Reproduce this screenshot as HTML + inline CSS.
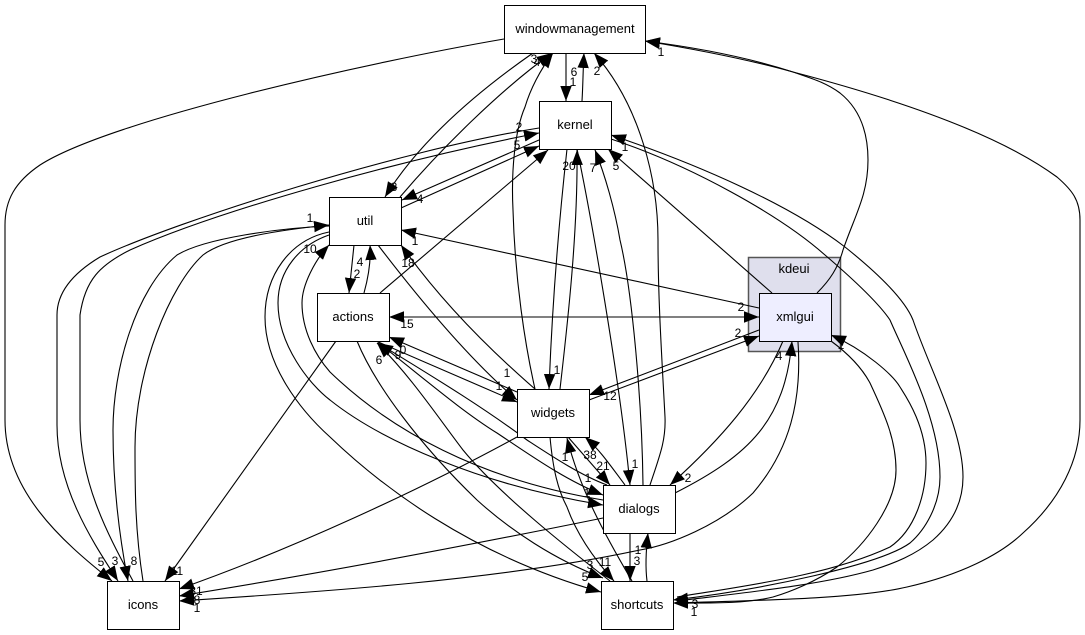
<!DOCTYPE html>
<html><head><meta charset="utf-8"><style>
html,body{margin:0;padding:0;background:#fff}
svg{display:block}
.e path{fill:none;stroke:#000;stroke-width:1.1}
.a{marker-end:url(#m)}
.n rect{fill:#fff;stroke:#000;stroke-width:1}
text{font-family:"Liberation Sans",sans-serif;fill:#000}
.n text{font-size:13px;text-anchor:middle}
.l text{font-size:12px;text-anchor:middle}
</style></head><body>
<svg width="1085" height="635" viewBox="0 0 1085 635" xmlns="http://www.w3.org/2000/svg">
<defs><marker id="m" markerUnits="userSpaceOnUse" markerWidth="17" markerHeight="14" refX="15" refY="6.5" orient="auto"><path d="M0,0.8L15,6.5L0,12.2Z" fill="#000"/></marker></defs>
<rect x="748.5" y="257.5" width="92" height="94" fill="#dfdfed" stroke="#555" stroke-width="1.5"/>
<text x="794" y="273" font-size="13" text-anchor="middle">kdeui</text>
<g class="e">
<path class="a" d="M504,39C370,62 110,120 40,165C15,182 5,200 5,225L5,420C5,490 60,540 112,581"/>
<path class="a" d="M533,53C480,90 420,140 385,197"/>
<path class="a" d="M400,197C440,150 500,90 552,53"/>
<path class="a" d="M535,389C525,345 515,280 513,210C511,170 515,130 525,107C530,90 540,70 553,53"/>
<path class="a" d="M566,53L566,101"/>
<path class="a" d="M582,101C583,85 583,70 584,53"/>
<path class="a" d="M650,485C660,455 666,440 665,417C662,360 658,300 658,240C658,180 640,105 594,53"/>
<path class="a" d="M817,293C830,280 838,268 843,250C855,215 868,195 868,160C868,125 855,105 840,93C825,82 810,78 793,72C750,58 700,48 645,41"/>
<path class="a" d="M673,603C780,600 860,598 907,587C960,575 1000,555 1023,533C1060,500 1080,460 1080,420L1080,220C1080,200 1072,190 1057,177C1000,135 900,100 793,72C750,60 700,50 645,41"/>
<path class="a" d="M539,128C400,150 180,220 100,257C70,275 57,295 57,315L57,425C57,490 95,545 118,581"/>
<path class="a" d="M133,581C105,530 80,480 80,420L80,315C85,280 100,265 130,250C220,210 400,160 539,133"/>
<path class="a" d="M539,140L402,200"/>
<path class="a" d="M401,208L539,146"/>
<path class="a" d="M380,293L548,150"/>
<path class="a" d="M329,226C280,228 205,238 177,255C135,290 113,370 113,430C113,490 120,540 128,581"/>
<path class="a" d="M143,581C135,530 135,490 135,447C135,370 170,285 203,255C225,238 280,230 329,225"/>
<path class="a" d="M560,389C568,320 578,230 577,150"/>
<path class="a" d="M567,149C558,230 552,310 549,389"/>
<path class="a" d="M577,149C590,210 620,380 630,485"/>
<path class="a" d="M643,485C642,400 632,290 620,240C615,210 605,175 595,150"/>
<path class="a" d="M772,293L608,149"/>
<path class="a" d="M677,597C750,585 830,575 890,547C915,530 926,495 926,463C926,425 905,395 900,387C893,375 865,350 831,335"/>
<path class="a" d="M831,341C850,355 862,368 870,383C885,415 896,440 896,470C896,505 865,545 837,567C815,582 790,592 773,597C745,604 710,603 673,603"/>
<path class="a" d="M677,601C750,592 820,585 873,570C895,563 915,555 933,540C950,525 963,505 963,477C963,430 930,370 913,320C905,300 880,275 845,247C790,205 700,165 611,135"/>
<path class="a" d="M611,139C690,165 780,215 825,255C860,285 880,305 890,320C905,355 940,420 940,477C940,505 925,530 910,543C880,565 760,590 673,600"/>
<path class="a" d="M759,308L401,230"/>
<path class="a" d="M402,317L759,317"/>
<path class="a" d="M759,317L389,317"/>
<path class="a" d="M759,330L589,395"/>
<path class="a" d="M589,400L759,336"/>
<path class="a" d="M783,341C760,395 720,440 670,485"/>
<path class="a" d="M675,493C750,455 785,420 792,341"/>
<path class="a" d="M798,342C802,400 790,450 753,493C720,525 670,545 640,550C500,580 320,592 179,601"/>
<path class="a" d="M354,245L349,293"/>
<path class="a" d="M364,293C369,275 371,260 370,245"/>
<path class="a" d="M378,245C420,300 470,360 517,400"/>
<path class="a" d="M535,389C490,350 440,300 401,245"/>
<path class="a" d="M517,392L389,337"/>
<path class="a" d="M376,341L517,402"/>
<path class="a" d="M329,232C290,240 265,275 265,317C265,365 300,410 330,437C380,485 470,555 601,592"/>
<path class="a" d="M329,235C300,245 278,270 278,303C278,345 310,385 330,400C380,440 480,485 603,505"/>
<path class="a" d="M603,500C480,480 390,430 330,372C315,355 302,330 302,303C302,285 315,260 329,245"/>
<path class="a" d="M380,344C420,375 460,410 497,433C530,455 565,480 603,495"/>
<path class="a" d="M607,485C580,475 550,455 527,440C480,405 430,375 378,343"/>
<path class="a" d="M357,341C375,385 420,445 477,500C510,530 555,560 603,578"/>
<path class="a" d="M610,581C570,550 500,495 463,450C440,420 410,375 377,343"/>
<path class="a" d="M336,341L165,581"/>
<path class="a" d="M517,437C420,490 290,550 179,589"/>
<path class="a" d="M603,518C470,545 310,575 179,596"/>
<path class="a" d="M550,437C553,470 558,490 567,507C577,535 595,560 614,581"/>
<path class="a" d="M632,581C605,535 580,490 567,438"/>
<path class="a" d="M568,437L610,485"/>
<path class="a" d="M625,485C610,465 600,450 585,437"/>
<path class="a" d="M630,533C630,550 630,565 630,581"/>
<path class="a" d="M647,581C645,565 646,550 648,533"/>
</g>
<g class="n">
<rect x="504.5" y="5.5" width="141" height="48"/><text x="575" y="33">windowmanagement</text>
<rect x="539.5" y="101.5" width="72" height="48"/><text x="575" y="129">kernel</text>
<rect x="329.5" y="197.5" width="72" height="48"/><text x="365" y="225">util</text>
<rect x="317.5" y="293.5" width="72" height="48"/><text x="353" y="321">actions</text>
<rect x="759.5" y="293.5" width="72" height="48" style="fill:#eeeeff"/><text x="795" y="321">xmlgui</text>
<rect x="517.5" y="389.5" width="72" height="48"/><text x="553" y="417">widgets</text>
<rect x="603.5" y="485.5" width="72" height="48"/><text x="639" y="513">dialogs</text>
<rect x="107.5" y="581.5" width="72" height="48"/><text x="143" y="609">icons</text>
<rect x="601.5" y="581.5" width="72" height="48"/><text x="637" y="609">shortcuts</text>
</g>
<g class="l">
<text x="534" y="63">3</text><text x="537" y="66">4</text>
<text x="574" y="76">6</text><text x="573" y="86">1</text><text x="597" y="75">2</text><text x="661" y="56">1</text>
<text x="519" y="131">2</text><text x="517" y="149">5</text><text x="625" y="151">1</text><text x="569" y="170">20</text><text x="593" y="172">7</text><text x="616" y="170">5</text>
<text x="394" y="191">8</text><text x="420" y="203">4</text><text x="310" y="222">1</text><text x="310" y="253">10</text><text x="415" y="245">1</text><text x="408" y="267">18</text>
<text x="360" y="266">4</text><text x="357" y="278">2</text>
<text x="407" y="328">15</text><text x="741" y="311">2</text><text x="738" y="337">2</text>
<text x="403" y="354">0</text><text x="398" y="359">9</text><text x="379" y="364">6</text>
<text x="507" y="377">1</text><text x="557" y="374">1</text><text x="499" y="390">1</text><text x="610" y="400">12</text><text x="779" y="360">4</text>
<text x="590" y="459">38</text><text x="603" y="470">21</text><text x="565" y="461">1</text><text x="635" y="468">1</text><text x="588" y="482">1</text><text x="587" y="497">1</text><text x="688" y="482">2</text>
<text x="638" y="554">1</text><text x="637" y="565">3</text><text x="605" y="566">11</text><text x="590" y="569">3</text><text x="585" y="581">5</text>
<text x="101" y="566">5</text><text x="115" y="565">3</text><text x="134" y="565">8</text><text x="177" y="575">11</text>
<text x="196" y="595">31</text><text x="197" y="604">8</text><text x="197" y="612">1</text>
<text x="695" y="608">3</text><text x="694" y="616">1</text><text x="841" y="349">1</text>
</g>
</svg>
</body></html>
